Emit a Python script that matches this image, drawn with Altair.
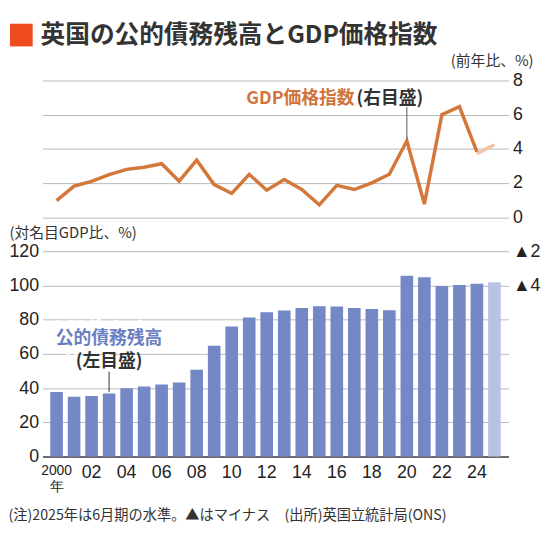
import altair as alt
import pandas as pd

# ---- data ----
years = list(range(2000, 2026))
debt = [37.7, 35.0, 35.4, 36.9, 40.0, 41.0, 42.1, 43.3, 50.8, 64.8,
        76.0, 81.3, 84.4, 85.4, 86.9, 87.9, 87.7, 86.9, 86.3, 85.6,
        105.7, 104.9, 99.7, 100.4, 101.1, 101.9]
deflator_years = list(range(2000, 2025))
deflator = [0.97, 1.82, 2.10, 2.49, 2.80, 2.92, 3.13, 2.11, 3.34, 1.91,
            1.39, 2.51, 1.58, 2.20, 1.62, 0.72, 1.86, 1.62, 2.01, 2.51,
            4.47, 0.77, 6.00, 6.47, 3.82]
latest_years = [2024, 2025]
latest_deflator = [3.72, 4.24]

left_ticks = [0, 20, 40, 60, 80, 100, 120, 140, 160, 180, 200, 220]
right_ticks = [-4, -2, 0, 2, 4, 6, 8]

debt_note_years = [2003, 2003]
debt_note_values = [68.5, 55.3]
debt_note_texts = ["公的債務残高", "(左目盛)"]
debt_note_colors = ["#6A80C2", "#333333"]

TITLE = "英国の公的債務残高とGDP価格指数"
FOOTNOTE = "(注)2025年は6月期の水準。▲はマイナス　(出所)英国立統計局(ONS)"

FONT_JP = "Noto Sans CJK JP"
FONT_NUM = "Liberation Sans"
BAR = "#7388C4"
BAR_LIGHT = "#B7C3E2"
ORANGE = "#D4773B"
ORANGE_LIGHT = "#F1C6A6"
DARK = "#333333"

debt_df = pd.DataFrame({"year": years, "debt": debt})
defl_df = pd.DataFrame({"year": deflator_years, "defl": deflator})
latest_df = pd.DataFrame({"year": latest_years, "defl": latest_deflator})
debt_note_df = pd.DataFrame({"year": debt_note_years, "debt": debt_note_values,
                             "text": debt_note_texts, "color": debt_note_colors})
debt_leader_df = pd.DataFrame({"year": [2003], "debt": [49.6], "debt2": [37.6]})
gdp_note_df = pd.DataFrame({"year": [2020], "defl": [6.92]})
gdp_leader_df = pd.DataFrame({"year": [2020], "defl": [6.45], "defl2": [4.6]})
title_df = pd.DataFrame({"text": [TITLE]})

# ---- scales / axes ----
x_scale = alt.Scale(domain=years, paddingInner=0.28, paddingOuter=0.44)
x_axis = alt.Axis(
    title=FOOTNOTE,
    titleFont=FONT_JP, titleFontSize=14.4, titleFontWeight="normal", titleColor=DARK,
    titleAnchor="start", titleAlign="left", titleBaseline="middle", titleX=-35, titleY=60,
    labelExpr="datum.value == 2000 ? ['2000', '年'] : (datum.value % 2 == 0 ? substring(datum.label, 2, 4) : '')",
    labelFont=FONT_NUM,
    labelFontSize={"condition": {"test": "datum.value == 2000", "value": 14}, "value": 18},
    labelLineHeight=16, labelColor="#222222", labelAngle=0, labelPadding=7,
    labelOverlap=False, ticks=False, domainColor="#444444", domainWidth=1.5, grid=False,
)
left_scale = alt.Scale(domain=[0, 220], nice=False, zero=True)
left_axis = alt.Axis(
    values=left_ticks, labelExpr="datum.value <= 120 ? datum.label : ''",
    title="(対名目GDP比、%)", titleAngle=0, titleAlign="left", titleBaseline="middle",
    titleX=-34, titleY=154, titleFont=FONT_JP, titleFontSize=15, titleFontWeight="normal",
    titleColor=DARK, labelFont=FONT_NUM, labelFontSize=18, labelColor="#222222",
    labelPadding=4, ticks=False, domain=False, grid=True, gridColor="#B8B8B8", gridWidth=1,
)
right_scale = alt.Scale(domain=[-14, 8], nice=False, zero=False)
right_axis = alt.Axis(
    orient="right", values=right_ticks,
    labelExpr="datum.value < 0 ? '▲' + abs(datum.value) : datum.label",
    title="(前年比、%)", titleAngle=0, titleAlign="right", titleBaseline="middle",
    titleX=25, titleY=-20, titleFont=FONT_JP, titleFontSize=15, titleFontWeight="normal",
    titleColor=DARK, labelFont=FONT_NUM, labelFontSize=18, labelColor="#222222",
    labelPadding=4, ticks=False, domain=False, grid=False,
)

X = alt.X("year:O", scale=x_scale, axis=x_axis)

# ---- left (debt) layers ----
bars = alt.Chart(debt_df).mark_bar().encode(
    x=X,
    y=alt.Y("debt:Q", scale=left_scale, axis=left_axis),
    color=alt.condition("datum.year == 2025", alt.value(BAR_LIGHT), alt.value(BAR)),
)
mask = alt.Chart(debt_note_df).transform_filter("datum.text == '公的債務残高'").mark_text(
    font=FONT_JP, fontSize=18, fontWeight="bold", fill="white", stroke="white",
    strokeWidth=14, baseline="middle", align="center",
).encode(x=X, y=alt.Y("debt:Q", scale=left_scale, axis=left_axis), text="text:N")
debt_text = alt.Chart(debt_note_df).mark_text(
    font=FONT_JP, fontSize=18, fontWeight="bold", baseline="middle", align="center",
).encode(
    x=X, y=alt.Y("debt:Q", scale=left_scale, axis=left_axis), text="text:N",
    color=alt.Color("color:N", scale=None),
)
debt_leader = alt.Chart(debt_leader_df).mark_rule(color=DARK, strokeWidth=1).encode(
    x=X, y=alt.Y("debt:Q", scale=left_scale, axis=left_axis), y2="debt2:Q",
)
square = alt.Chart(title_df).mark_square(color="#EE4B1F", size=529, opacity=1).encode(
    x=alt.value(-21.5), y=alt.value(-46),
)
title = alt.Chart(title_df).mark_text(
    font=FONT_JP, fontSize=25, fontWeight="bold", color=DARK, align="left", baseline="middle",
).encode(x=alt.value(-2), y=alt.value(-46), text="text:N")
left = alt.layer(bars, mask, debt_text, debt_leader, square, title)

# ---- right (deflator) layers ----
Yr = alt.Y("defl:Q", scale=right_scale, axis=right_axis)
latest_line = alt.Chart(latest_df).mark_line(color=ORANGE_LIGHT, strokeWidth=3.5).encode(x=X, y=Yr)
line = alt.Chart(defl_df).mark_line(color=ORANGE, strokeWidth=3.5).encode(x=X, y=Yr)
gdp_text1 = alt.Chart(gdp_note_df).mark_text(
    text="GDP価格指数", font=FONT_JP, fontSize=18, fontWeight="bold", color="#D0743A",
    align="right", baseline="middle", dx=-53,
).encode(x=X, y=Yr)
gdp_text2 = alt.Chart(gdp_note_df).mark_text(
    text="(右目盛)", font=FONT_JP, fontSize=18, fontWeight="bold", color=DARK,
    align="left", baseline="middle", dx=-51,
).encode(x=X, y=Yr)
gdp_leader = alt.Chart(gdp_leader_df).mark_rule(color="#555555", strokeWidth=1).encode(
    x=X, y=Yr, y2="defl2:Q",
)
right = alt.layer(latest_line, line, gdp_text1, gdp_text2, gdp_leader)

chart = alt.layer(left, right).resolve_scale(y="independent").properties(
    width=472, height=381,
    autosize=alt.AutoSizeParams(type="none"),
    padding={"left": 35, "top": 70, "right": 34, "bottom": 70},
    background="white",
).configure_view(strokeWidth=0)

chart.save("out.html", embed_options={"renderer": "svg", "actions": False})
